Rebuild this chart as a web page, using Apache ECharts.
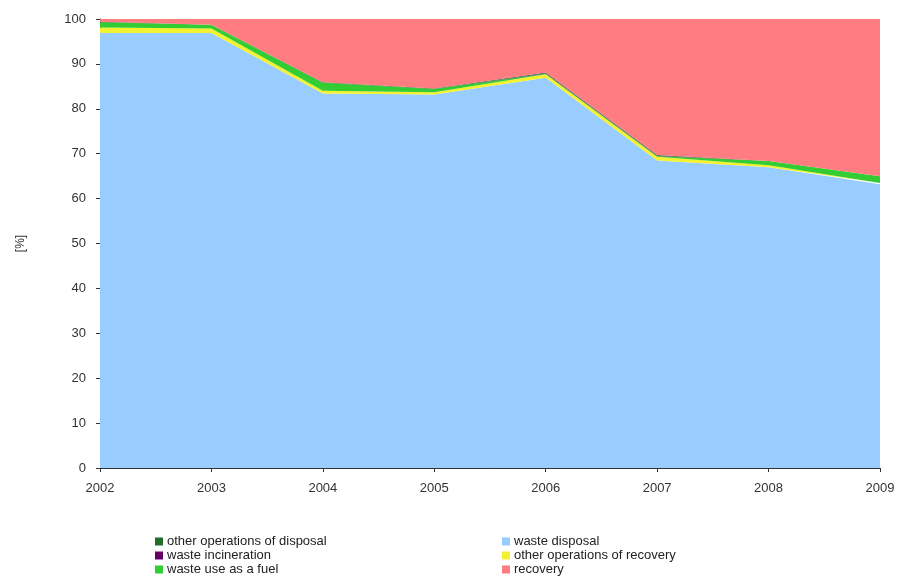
<!DOCTYPE html>
<html>
<head>
<meta charset="utf-8">
<script src="https://cdn.jsdelivr.net/npm/echarts@6/dist/echarts.min.js"></script>
<style>html,body{margin:0;padding:0;background:#fff;}#c{width:904px;height:588px;}</style>
</head>
<body>
<div id="c"></div>
<script>
const years = ['2002','2003','2004','2005','2006','2007','2008','2009'];
const wasteDisposal     = [96.9, 96.9, 83.4, 83.2, 86.9, 68.5, 67.0, 63.2];
const otherRecovery     = [1.2, 1.0, 0.6, 0.5, 0.8, 0.8, 0.4, 0.3];
const wasteFuel         = [1.2, 0.8, 1.8, 0.7, 0.1, 0.2, 1.0, 1.5];
const wasteIncineration = [0.0, 0.0, 0.0, 0.0, 0.1, 0.1, 0.0, 0.0];
const otherDisposal     = [0.1, 0.0, 0.1, 0.1, 0.2, 0.1, 0.0, 0.0];
const recovery          = [0.6, 1.3, 14.1, 15.5, 11.9, 30.3, 31.6, 35.0];
const yTicks = [0,10,20,30,40,50,60,70,80,90,100];

const font = 'Liberation Sans, Arial, sans-serif';
function area(name, data, color) {
  return {
    name, type: 'line', stack: 'total', data,
    showSymbol: false, symbol: 'none',
    lineStyle: { width: 0 },
    areaStyle: { color, opacity: 1 },
    itemStyle: { color },
    emphasis: { disabled: true }
  };
}
const chart = echarts.init(document.getElementById('c'), null, { renderer: 'canvas' });
chart.setOption({
  animation: false,
  backgroundColor: '#fff',
  grid: { left: 100, right: 24, top: 19, bottom: 120 },
  xAxis: {
    type: 'category', data: years, boundaryGap: false,
    axisLine: { lineStyle: { color: '#333', width: 1 } },
    axisTick: { show: true, length: 4, lineStyle: { color: '#333' } },
    axisLabel: { color: '#333', fontFamily: font, fontSize: 13, margin: 14 },
    splitLine: { show: false }
  },
  yAxis: {
    type: 'value', min: 0, max: 100, interval: 10,
    name: '[%]', nameLocation: 'middle', nameGap: 73, nameRotate: 90,
    nameTextStyle: { color: '#333', fontFamily: font, fontSize: 12 },
    axisLine: { show: true, lineStyle: { color: '#333', width: 1 } },
    axisTick: { show: true, length: 4, lineStyle: { color: '#333' } },
    axisLabel: { color: '#333', fontFamily: font, fontSize: 13, margin: 14,
      formatter: v => yTicks.includes(v) ? String(v) : '' },
    splitLine: { show: false }
  },
  legend: [
    {
      orient: 'vertical', left: 150, top: 530, itemGap: 1,
      itemWidth: 8, itemHeight: 8, icon: 'rect',
      textStyle: { color: '#222', fontFamily: font, fontSize: 13, padding: [0,0,0,-1] },
      data: ['other operations of disposal', 'waste incineration', 'waste use as a fuel']
    },
    {
      orient: 'vertical', left: 497, top: 530, itemGap: 1,
      itemWidth: 8, itemHeight: 8, icon: 'rect',
      textStyle: { color: '#222', fontFamily: font, fontSize: 13, padding: [0,0,0,-1] },
      data: ['waste disposal', 'other operations of recovery', 'recovery']
    }
  ],
  series: [
    area('waste disposal', wasteDisposal, '#99CCFF'),
    area('other operations of recovery', otherRecovery, '#F2F230'),
    area('waste use as a fuel', wasteFuel, '#33CC33'),
    area('waste incineration', wasteIncineration, '#660066'),
    area('other operations of disposal', otherDisposal, '#1F6E2A'),
    area('recovery', recovery, '#FF7C80')
  ]
});
</script>
</body>
</html>
